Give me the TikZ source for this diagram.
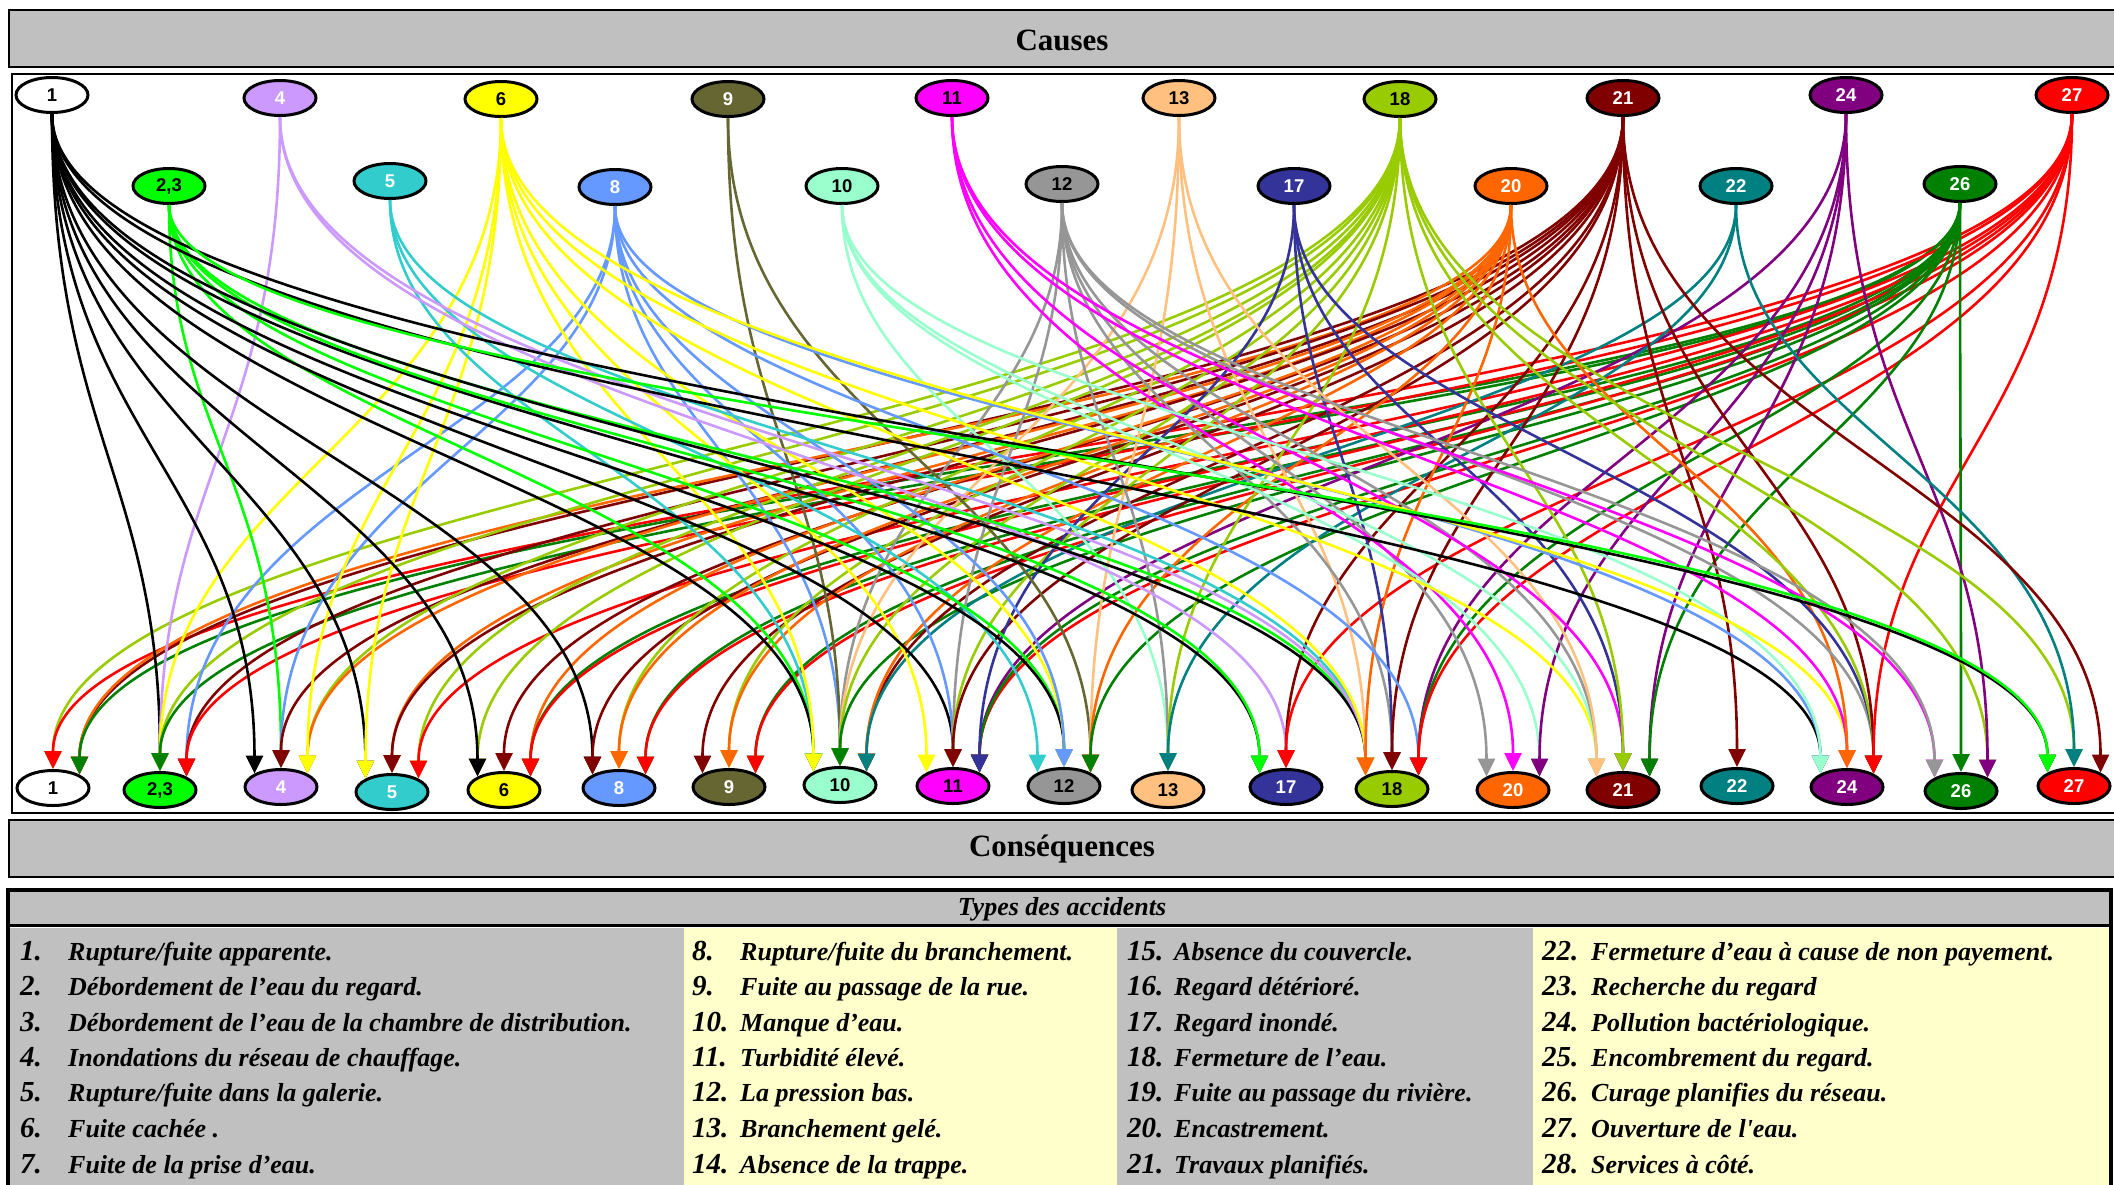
\documentclass[tikz,border=0pt]{standalone}
\usepackage{fontspec}
\setmainfont{Liberation Serif}
\newfontfamily\nodefnt{Liberation Sans}
\usetikzlibrary{arrows.meta,shapes.geometric}
\definecolor{c1}{HTML}{000000}
\definecolor{c23}{HTML}{00FF00}
\definecolor{c4}{HTML}{CC99FF}
\definecolor{c5}{HTML}{33CCCC}
\definecolor{c6}{HTML}{FFFF00}
\definecolor{c8}{HTML}{6699FF}
\definecolor{c9}{HTML}{666633}
\definecolor{c10}{HTML}{99FFCC}
\definecolor{c11}{HTML}{FF00FF}
\definecolor{c12}{HTML}{969696}
\definecolor{c13}{HTML}{FFC080}
\definecolor{c17}{HTML}{333399}
\definecolor{c18}{HTML}{99CC00}
\definecolor{c20}{HTML}{FF6600}
\definecolor{c21}{HTML}{800000}
\definecolor{c22}{HTML}{008080}
\definecolor{c24}{HTML}{800080}
\definecolor{c26}{HTML}{008000}
\definecolor{c27}{HTML}{FF0000}
\definecolor{hdr}{HTML}{C0C0C0}
\definecolor{pale}{HTML}{FFFFCC}
\tikzset{
  cnode/.style={ellipse, draw=black, line width=3pt, minimum width=72pt, minimum height=35pt, inner sep=0pt,
    font=\nodefnt\bfseries\fontsize{18.5}{18.5}\selectfont},
  conn/.style={line width=2.6pt, -{Triangle[length=18pt,width=17pt]}},
  hbox/.style={fill=hdr, draw=black, line width=2.5pt},
  htext/.style={font=\bfseries\fontsize{31}{31}\selectfont},
  numst/.style={anchor=base west, inner sep=0pt, font=\bfseries\itshape\fontsize{29}{29}\selectfont},
  txtst/.style={anchor=base west, inner sep=0pt, font=\bfseries\itshape\fontsize{26}{26}\selectfont}
}
\newcommand\cnd[6]{\node[cnode, fill=#4, text=#5] (#1) at (#2,#3) {#6};}
\newcommand\cE[3]{\draw[conn, c#1] (t#1.south) .. controls (t#1.south |- ctlA) and (b#2.#3 |- ctlB) .. (b#2.#3);}
\newcommand\li[5]{\node[numst] (n#1) at (#2,#4) {#1.}; \node[txtst] (l#1) at (#3,#4) {#5};}
\begin{document}
\begin{tikzpicture}[x=1pt,y=-1pt]
\useasboundingbox (0,0) rectangle (2114,1184);
\clip (0,0) rectangle (2114,1184);
\coordinate (ctlA) at (0,430);
\coordinate (ctlB) at (0,480);
% headers
\draw[hbox] (9,10) rectangle (2130,67);
\node[htext] (hcauses) at (1062,40) {Causes};
\draw[line width=1.5pt] (12,74) rectangle (2130,813);
\draw[hbox] (9,820) rectangle (2130,877);
\node[htext] (hcons) at (1062,849) {Conséquences};
% table
\fill[hdr] (8,890) rectangle (2111,925);
\fill[hdr] (10,928) rectangle (684,1200);
\fill[pale] (684,928) rectangle (1117,1200);
\fill[hdr] (1117,928) rectangle (1533,1200);
\fill[pale] (1533,928) rectangle (2111,1200);
\draw[line width=4pt] (8,1200) -- (8,890) -- (2111,890) -- (2111,1200);
\draw[line width=3pt] (8,925.5) -- (2111,925.5);
\node[font=\bfseries\itshape\fontsize{26}{26}\selectfont] (ttitle) at (1062,909) {Types des accidents};
\li{1}{20}{68}{960}{Rupture/fuite apparente.}
\li{2}{20}{68}{995}{Débordement de l’eau du regard.}
\li{3}{20}{68}{1031}{Débordement de l’eau de la chambre de distribution.}
\li{4}{20}{68}{1066}{Inondations du réseau de chauffage.}
\li{5}{20}{68}{1101}{Rupture/fuite dans la galerie.}
\li{6}{20}{68}{1137}{Fuite cachée .}
\li{7}{20}{68}{1173}{Fuite de la prise d’eau.}
\li{8}{692}{740}{960}{Rupture/fuite du branchement.}
\li{9}{692}{740}{995}{Fuite au passage de la rue.}
\li{10}{692}{740}{1031}{Manque d’eau.}
\li{11}{692}{740}{1066}{Turbidité élevé.}
\li{12}{692}{740}{1101}{La pression bas.}
\li{13}{692}{740}{1137}{Branchement gelé.}
\li{14}{692}{740}{1173}{Absence de la trappe.}
\li{15}{1127}{1174}{960}{Absence du couvercle.}
\li{16}{1127}{1174}{995}{Regard détérioré.}
\li{17}{1127}{1174}{1031}{Regard inondé.}
\li{18}{1127}{1174}{1066}{Fermeture de l’eau.}
\li{19}{1127}{1174}{1101}{Fuite au passage du rivière.}
\li{20}{1127}{1174}{1137}{Encastrement.}
\li{21}{1127}{1174}{1173}{Travaux planifiés.}
\li{22}{1542}{1591}{960}{Fermeture d’eau à cause de non payement.}
\li{23}{1542}{1591}{995}{Recherche du regard}
\li{24}{1542}{1591}{1031}{Pollution bactériologique.}
\li{25}{1542}{1591}{1066}{Encombrement du regard.}
\li{26}{1542}{1591}{1101}{Curage planifies du réseau.}
\li{27}{1542}{1591}{1137}{Ouverture de l\textquotesingle eau.}
\li{28}{1542}{1591}{1173}{Services à côté.}
% top nodes
\cnd{t1}{52}{95}{white}{black}{1}
\cnd{t4}{280}{98}{c4}{white}{4}
\cnd{t6}{501}{99}{c6}{black}{6}
\cnd{t9}{728}{99}{c9}{white}{9}
\cnd{t11}{952}{98}{c11}{black}{11}
\cnd{t13}{1179}{98}{c13}{black}{13}
\cnd{t18}{1400}{99}{c18}{black}{18}
\cnd{t21}{1623}{98}{c21}{white}{21}
\cnd{t24}{1846}{95}{c24}{white}{24}
\cnd{t27}{2072}{95}{c27}{white}{27}
\cnd{t23}{169}{186}{c23}{black}{2,3}
\cnd{t5}{390}{181}{c5}{white}{5}
\cnd{t8}{615}{187}{c8}{white}{8}
\cnd{t10}{842}{186}{c10}{black}{10}
\cnd{t12}{1062}{184}{c12}{black}{12}
\cnd{t17}{1294}{186}{c17}{white}{17}
\cnd{t20}{1511}{186}{c20}{white}{20}
\cnd{t22}{1736}{186}{c22}{white}{22}
\cnd{t26}{1960}{184}{c26}{white}{26}
% bottom nodes
\cnd{b1}{53}{788}{white}{black}{1}
\cnd{b23}{160}{790}{c23}{black}{2,3}
\cnd{b4}{281}{787}{c4}{white}{4}
\cnd{b5}{392}{792}{c5}{white}{5}
\cnd{b6}{504}{790}{c6}{black}{6}
\cnd{b8}{619}{788}{c8}{white}{8}
\cnd{b9}{729}{787}{c9}{white}{9}
\cnd{b10}{840}{785}{c10}{black}{10}
\cnd{b11}{953}{786}{c11}{black}{11}
\cnd{b12}{1064}{786}{c12}{black}{12}
\cnd{b13}{1168}{790}{c13}{black}{13}
\cnd{b17}{1286}{787}{c17}{white}{17}
\cnd{b18}{1392}{789}{c18}{black}{18}
\cnd{b20}{1513}{790}{c20}{white}{20}
\cnd{b21}{1623}{790}{c21}{white}{21}
\cnd{b22}{1737}{786}{c22}{white}{22}
\cnd{b24}{1847}{787}{c24}{white}{24}
\cnd{b26}{1961}{791}{c26}{white}{26}
\cnd{b27}{2074}{786}{c27}{white}{27}
% edges
\cE{18}{1}{north}\cE{27}{1}{north}
\cE{21}{1}{north east}\cE{20}{1}{north east}\cE{26}{1}{north east}
\cE{1}{23}{north}\cE{4}{23}{north}\cE{6}{23}{north}\cE{18}{23}{north}\cE{26}{23}{north}
\cE{8}{23}{north east}\cE{21}{23}{north east}\cE{27}{23}{north east}
\cE{1}{4}{north west}
\cE{23}{4}{north}\cE{8}{4}{north}\cE{21}{4}{north}
\cE{18}{4}{north east}\cE{20}{4}{north east}\cE{6}{4}{north east}
\cE{1}{5}{north west}\cE{6}{5}{north west}
\cE{20}{5}{north}\cE{21}{5}{north}
\cE{18}{5}{north east}\cE{27}{5}{north east}
\cE{18}{6}{north west}\cE{1}{6}{north west}
\cE{21}{6}{north}
\cE{20}{6}{north east}\cE{26}{6}{north east}\cE{27}{6}{north east}
\cE{1}{8}{north west}\cE{21}{8}{north west}
\cE{18}{8}{north}\cE{20}{8}{north}
\cE{26}{8}{north east}\cE{27}{8}{north east}
\cE{21}{9}{north west}
\cE{18}{9}{north}\cE{20}{9}{north}
\cE{26}{9}{north east}\cE{27}{9}{north east}
\cE{23}{10}{north west}\cE{1}{10}{north west}\cE{5}{10}{north west}\cE{6}{10}{north west}
\cE{8}{10}{north}\cE{9}{10}{north}\cE{12}{10}{north}\cE{13}{10}{north}\cE{18}{10}{north}\cE{26}{10}{north}
\cE{21}{10}{north east}\cE{20}{10}{north east}\cE{22}{10}{north east}
\cE{6}{11}{north west}
\cE{1}{11}{north}\cE{8}{11}{north}\cE{12}{11}{north}\cE{18}{11}{north}\cE{21}{11}{north}
\cE{24}{11}{north east}\cE{27}{11}{north east}\cE{26}{11}{north east}\cE{17}{11}{north east}
\cE{5}{12}{north west}
\cE{23}{12}{north}\cE{1}{12}{north}\cE{6}{12}{north}\cE{8}{12}{north}
\cE{9}{12}{north east}\cE{13}{12}{north east}\cE{20}{12}{north east}\cE{26}{12}{north east}
\cE{10}{13}{north}\cE{12}{13}{north}\cE{18}{13}{north}\cE{22}{13}{north}
\cE{1}{17}{north west}\cE{23}{17}{north west}
\cE{4}{17}{north}\cE{21}{17}{north}\cE{27}{17}{north}
\cE{5}{18}{north west}\cE{23}{18}{north west}\cE{1}{18}{north west}\cE{4}{18}{north west}\cE{6}{18}{north west}\cE{13}{18}{north west}\cE{20}{18}{north west}
\cE{12}{18}{north}\cE{17}{18}{north}\cE{21}{18}{north}
\cE{8}{18}{north east}\cE{24}{18}{north east}\cE{26}{18}{north east}\cE{27}{18}{north east}
\cE{12}{20}{north west}
\cE{11}{20}{north}
\cE{10}{20}{north east}\cE{24}{20}{north east}
\cE{6}{21}{north west}\cE{10}{21}{north west}\cE{12}{21}{north west}\cE{13}{21}{north west}
\cE{11}{21}{north}\cE{17}{21}{north}\cE{18}{21}{north}
\cE{24}{21}{north east}\cE{26}{21}{north east}
\cE{21}{22}{north}
\cE{1}{24}{north west}\cE{8}{24}{north west}\cE{10}{24}{north west}
\cE{6}{24}{north}\cE{11}{24}{north}\cE{20}{24}{north}
\cE{12}{24}{north east}\cE{17}{24}{north east}\cE{18}{24}{north east}\cE{21}{24}{north east}\cE{27}{24}{north east}
\cE{11}{26}{north west}\cE{12}{26}{north west}
\cE{26}{26}{north}
\cE{18}{26}{north east}\cE{24}{26}{north east}
\cE{1}{27}{north west}\cE{23}{27}{north west}
\cE{18}{27}{north}\cE{22}{27}{north}
\cE{21}{27}{north east}
\end{tikzpicture}
\end{document}
